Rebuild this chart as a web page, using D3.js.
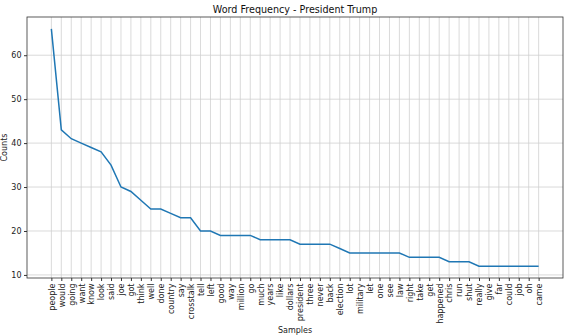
<!DOCTYPE html>
<html>
<head>
<meta charset="utf-8">
<script src="https://cdn.jsdelivr.net/npm/d3@7"></script>
<style>
body { margin: 0; background: #fff; }
text { font-family: "DejaVu Sans", sans-serif; }
</style>
</head>
<body>
<div id="chart"></div>
<script>
var words = ["people", "would", "going", "want", "know", "look", "said", "joe", "got", "think",
    "well", "done", "country", "say", "crosstalk", "tell", "left", "good", "way", "million",
    "go", "much", "years", "like", "dollars", "president", "three", "never", "back", "election",
    "lot", "military", "let", "one", "see", "law", "right", "take", "get", "happened",
    "chris", "run", "shut", "really", "give", "far", "could", "job", "oh", "came"];
var counts = [66, 43, 41, 40, 39, 38, 35, 30, 29, 27,
    25, 25, 24, 23, 23, 20, 20, 19, 19, 19,
    19, 18, 18, 18, 18, 17, 17, 17, 17, 16,
    15, 15, 15, 15, 15, 15, 14, 14, 14, 14,
    13, 13, 13, 12, 12, 12, 12, 12, 12, 12];
var yTicks = [10, 20, 30, 40, 50, 60];

var width = 579, height = 336;
var plotLeft = 27, plotRight = 563, plotTop = 17, plotBottom = 278;

var svg = d3.select("#chart").append("svg")
    .attr("width", width)
    .attr("height", height);

var n = words.length;
var padX = (n - 1) * 0.05;
var x = d3.scaleLinear()
    .domain([-padX, n - 1 + padX])
    .range([plotLeft, plotRight]);

var yMin = d3.min(counts), yMax = d3.max(counts);
var padY = (yMax - yMin) * 0.05;
var y = d3.scaleLinear()
    .domain([yMin - padY, yMax + padY])
    .range([plotBottom, plotTop]);

// grid
svg.append("g").selectAll("line")
    .data(words)
    .enter().append("line")
    .attr("x1", function (d, i) { return x(i); })
    .attr("x2", function (d, i) { return x(i); })
    .attr("y1", plotTop).attr("y2", plotBottom)
    .attr("stroke", "#d0d0d0").attr("stroke-width", 0.8);

svg.append("g").selectAll("line")
    .data(yTicks)
    .enter().append("line")
    .attr("x1", plotLeft).attr("x2", plotRight)
    .attr("y1", function (d) { return y(d); })
    .attr("y2", function (d) { return y(d); })
    .attr("stroke", "#d0d0d0").attr("stroke-width", 0.8);

// axes
var xAxis = d3.axisBottom(x)
    .tickValues(d3.range(n))
    .tickFormat(function (i) { return words[i]; })
    .tickSize(3)
    .tickSizeOuter(0);
var gx = svg.append("g")
    .attr("transform", "translate(0," + plotBottom + ")")
    .call(xAxis);
gx.select(".domain").remove();
gx.selectAll("line").attr("stroke", "#333");
gx.selectAll("text")
    .attr("transform", "rotate(-90)")
    .attr("x", -5.5)
    .attr("y", 0)
    .attr("dy", "0.35em")
    .style("text-anchor", "end")
    .style("font-size", "8px")
    .style("font-family", "DejaVu Sans")
    .attr("fill", "#222");

var yAxis = d3.axisLeft(y)
    .tickValues(yTicks)
    .tickSize(3)
    .tickSizeOuter(0);
var gy = svg.append("g")
    .attr("transform", "translate(" + plotLeft + ",0)")
    .call(yAxis);
gy.select(".domain").remove();
gy.selectAll("line").attr("stroke", "#333");
gy.selectAll("text")
    .attr("x", -5.5)
    .style("font-size", "8px")
    .style("font-family", "DejaVu Sans")
    .attr("fill", "#222");

// frame
svg.append("rect")
    .attr("x", plotLeft).attr("y", plotTop)
    .attr("width", plotRight - plotLeft).attr("height", plotBottom - plotTop)
    .attr("fill", "none").attr("stroke", "#333").attr("stroke-width", 0.8);

// line
var line = d3.line()
    .x(function (d, i) { return x(i); })
    .y(function (d) { return y(d); });
svg.append("path")
    .datum(counts)
    .attr("d", line)
    .attr("fill", "none")
    .attr("stroke", "#1f77b4")
    .attr("stroke-width", 1.5);

// labels
svg.append("text")
    .attr("x", (plotLeft + plotRight) / 2).attr("y", 12.5)
    .attr("text-anchor", "middle")
    .style("font-size", "9.6px")
    .attr("fill", "#111")
    .text("Word Frequency - President Trump");

svg.append("text")
    .attr("x", (plotLeft + plotRight) / 2).attr("y", 333)
    .attr("text-anchor", "middle")
    .style("font-size", "8px")
    .attr("fill", "#222")
    .text("Samples");

svg.append("text")
    .attr("transform", "translate(6.5," + ((plotTop + plotBottom) / 2) + ") rotate(-90)")
    .attr("text-anchor", "middle")
    .style("font-size", "8px")
    .attr("fill", "#222")
    .text("Counts");
</script>
</body>
</html>
